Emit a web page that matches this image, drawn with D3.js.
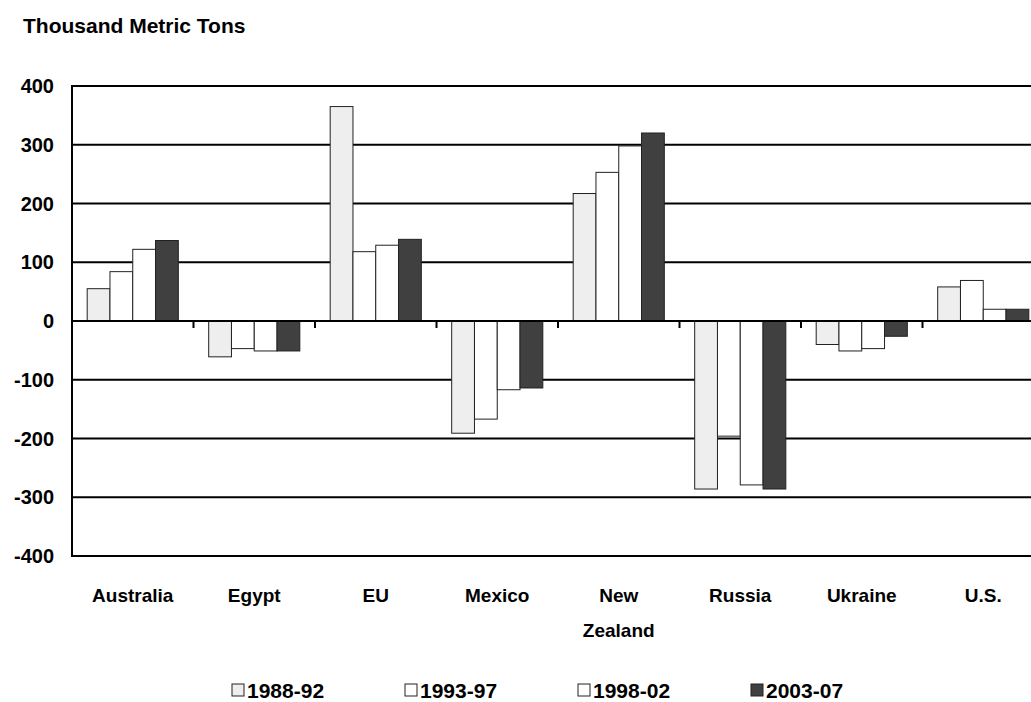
<!DOCTYPE html>
<html>
<head>
<meta charset="utf-8">
<script src="https://cdn.jsdelivr.net/npm/d3@7"></script>
<style>
  html, body { margin: 0; padding: 0; background: #fff; }
  svg { display: block; }
  text { font-family: "Liberation Sans", Arial, sans-serif; font-weight: bold; fill: #000; }
</style>
</head>
<body>
<svg id="chart" width="1031" height="702"></svg>
<script>
// Net trade by country, five-year averages (thousand metric tons)
const categories = ["Australia", "Egypt", "EU", "Mexico", "New Zealand", "Russia", "Ukraine", "U.S."];
const seriesNames = ["1988-92", "1993-97", "1998-02", "2003-07"];
const values1988_92 = [55, -61, 365, -191, 217, -286, -40, 58];
const values1993_97 = [84, -47, 118, -167, 253, -196, -51, 69];
const values1998_02 = [122, -51, 129, -117, 298, -279, -47, 20];
const values2003_07 = [137, -51, 139, -114, 320, -286, -26, 20];
const yTicks = [400, 300, 200, 100, 0, -100, -200, -300, -400];
const seriesFills = ["#eeeeee", "#ffffff", "#ffffff", "#404040"];

const seriesValues = [values1988_92, values1993_97, values1998_02, values2003_07];

const svg = d3.select("#chart");
const plot = { left: 72, right: 1044, top: 86, bottom: 556 };

const x = d3.scaleBand().domain(categories).range([plot.left, plot.right]);
const bw = x.bandwidth();
const xs = d3.scaleBand().domain(seriesNames).range([bw * 0.125, bw * 0.875]);
const y = d3.scaleLinear().domain([-400, 400]).range([plot.bottom, plot.top]);

// Title
svg.append("text")
  .attr("x", 23).attr("y", 33)
  .style("font-size", "21px")
  .text("Thousand Metric Tons");

// Horizontal gridlines (including frame top/bottom)
svg.append("g").selectAll("line")
  .data(yTicks)
  .join("line")
  .attr("x1", plot.left).attr("x2", plot.right)
  .attr("y1", d => y(d)).attr("y2", d => y(d))
  .attr("stroke", "#000").attr("stroke-width", 2);

// Y tick labels
svg.append("g").selectAll("text")
  .data(yTicks)
  .join("text")
  .attr("x", 54).attr("y", d => y(d))
  .attr("dy", "0.36em")
  .attr("text-anchor", "end")
  .style("font-size", "20px")
  .text(d => d);

// Bars
const rows = categories.map((c, i) => ({ c, vals: seriesValues.map(s => s[i]) }));
const groups = svg.append("g").selectAll("g")
  .data(rows)
  .join("g")
  .attr("transform", d => `translate(${x(d.c)},0)`);

groups.selectAll("rect")
  .data(d => d.vals.map((v, k) => ({ v, k })))
  .join("rect")
  .attr("x", d => xs(seriesNames[d.k]))
  .attr("width", xs.bandwidth())
  .attr("y", d => y(Math.max(0, d.v)))
  .attr("height", d => Math.abs(y(d.v) - y(0)))
  .attr("fill", d => seriesFills[d.k])
  .attr("stroke", "#222")
  .attr("stroke-width", 1);

// Zero line with category ticks
svg.append("line")
  .attr("x1", plot.left).attr("x2", plot.right)
  .attr("y1", y(0)).attr("y2", y(0))
  .attr("stroke", "#000").attr("stroke-width", 2);

svg.append("g").selectAll("line")
  .data(categories.slice(1))
  .join("line")
  .attr("x1", d => x(d)).attr("x2", d => x(d))
  .attr("y1", y(0)).attr("y2", y(0) + 7)
  .attr("stroke", "#000").attr("stroke-width", 2);

// Left axis line
svg.append("line")
  .attr("x1", plot.left).attr("x2", plot.left)
  .attr("y1", plot.top - 1).attr("y2", plot.bottom + 1)
  .attr("stroke", "#000").attr("stroke-width", 2);

// Category labels (wrap on spaces)
const catLabels = svg.append("g").selectAll("text")
  .data(categories)
  .join("text")
  .attr("x", d => x(d) + bw / 2)
  .attr("y", 602)
  .attr("text-anchor", "middle")
  .style("font-size", "19px");
catLabels.each(function(d) {
  const parts = d.split(" ");
  const t = d3.select(this);
  parts.forEach((p, i) => {
    t.append("tspan")
      .attr("x", x(d) + bw / 2)
      .attr("dy", i === 0 ? 0 : 35)
      .text(p);
  });
});

// Legend
const legendX = [232, 405, 578, 751];
const legend = svg.append("g").selectAll("g")
  .data(seriesNames)
  .join("g")
  .attr("transform", (d, i) => `translate(${legendX[i]},684)`);
legend.append("rect")
  .attr("width", 12).attr("height", 12)
  .attr("fill", (d, i) => seriesFills[i])
  .attr("stroke", "#222").attr("stroke-width", 1);
legend.append("text")
  .attr("x", 15).attr("y", 6)
  .attr("dy", "0.36em")
  .style("font-size", "21px")
  .text(d => d);
</script>
</body>
</html>
